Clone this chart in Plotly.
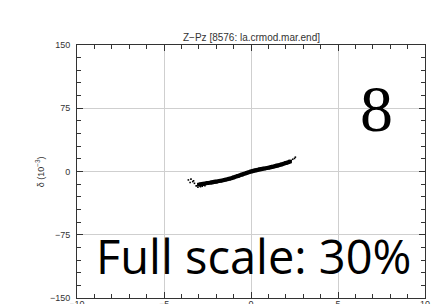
import plotly.graph_objects as go

# Core band of the Z-Pz distribution
band_x = [-3.0, -2.75, -2.5, -2.25, -2.0, -1.75, -1.5, -1.25, -1.0, -0.75, -0.5, -0.25,
          0.0, 0.25, 0.5, 0.75, 1.0, 1.25, 1.5, 1.75, 2.0, 2.25]
band_y = [-15.5, -14.6, -13.7, -12.9, -12.0, -11.0, -9.8, -8.5, -7.0, -5.3, -3.5, -1.7,
          0.0, 1.3, 2.5, 3.5, 4.5, 5.7, 7.0, 8.4, 10.0, 11.8]

# Stray particles around the ends of the band
stray_x = [-3.6, -3.45, -3.35, -3.25, -3.15, -3.05, -2.9, -2.8, -3.5, -3.3, -2.65,
           2.3, 2.4, 2.5, 2.55, 2.2]
stray_y = [-10.0, -9.0, -12.0, -14.0, -17.0, -18.5, -18.0, -17.5, -13.0, -11.0, -16.8,
           13.0, 14.5, 15.5, 17.0, 12.8]

x_tickvals = [-10, -5, 0, 5, 10]
y_tickvals = [-150, -75, 0, 75, 150]
title_text = "Z\u2212Pz [8576: la.crmod.mar.end]"
big_label = "8"
scale_label = "Full scale: 30%"

fig = go.Figure()
fig.add_trace(go.Scatter(x=band_x, y=band_y, mode="lines+markers",
                         line=dict(color="black", width=4.2, shape="spline"),
                         marker=dict(color="black", size=3.5, symbol="square"),
                         showlegend=False, hoverinfo="skip"))
fig.add_trace(go.Scatter(x=stray_x, y=stray_y, mode="markers",
                         marker=dict(color="black", size=1.6, symbol="square"),
                         showlegend=False, hoverinfo="skip"))

axis_common = dict(
    showline=True, linecolor="#333333", linewidth=1, mirror="allticks",
    ticks="inside", ticklen=6, tickcolor="#333333", tickwidth=1,
    showgrid=True, gridcolor="#cfcfcf", gridwidth=1.2,
    zeroline=False, automargin=False,
    tickfont=dict(family="Liberation Sans", size=9, color="#333333"),
)

fig.update_xaxes(range=[-10, 10], tickvals=x_tickvals,
                 ticktext=["\u221210", "\u22125", "0", "5", "10"],
                 minor=dict(ticks="inside", ticklen=4, dtick=1, tick0=0,
                            tickcolor="#333333", showgrid=False),
                 ticklabelstandoff=-3, **axis_common)
fig.update_yaxes(range=[-150, 150], tickvals=y_tickvals,
                 ticktext=["\u2212150", "\u221275", "0", "75", "150"],
                 minor=dict(ticks="inside", ticklen=4, dtick=15, tick0=0,
                            tickcolor="#333333", showgrid=False),
                 ticklabelstandoff=4, **axis_common)

fig.add_annotation(x=0.5, y=1, xref="paper", yref="paper", xanchor="center", yanchor="bottom",
                   text=title_text, showarrow=False, yshift=0,
                   font=dict(family="Liberation Sans", size=10, color="#333333"))
fig.add_annotation(x=-0.107, y=0.5, xref="paper", yref="paper",
                   text="\u03b4 (10<sup>\u22123</sup>)",
                   showarrow=False, textangle=-90, xanchor="center", yanchor="middle",
                   font=dict(family="Liberation Sans", size=9, color="#333333"))
fig.add_annotation(x=7.2, y=75, xref="x", yref="y", text=big_label, showarrow=False,
                   xanchor="center", yanchor="middle",
                   font=dict(family="Liberation Serif, Times New Roman, serif", size=66,
                             color="black"))
fig.add_annotation(x=0.15, y=-100, xref="x", yref="y", text=scale_label, showarrow=False,
                   xanchor="center", yanchor="middle",
                   font=dict(family="Open Sans", size=47, color="black"))

fig.update_layout(width=431, height=304,
                  margin=dict(l=77, r=6, t=45, b=6, autoexpand=False),
                  plot_bgcolor="white", paper_bgcolor="white")

# remove the browser's default body margin so the figure fills the window exactly
fig.write_html("out.html",
               config={"displayModeBar": False},
               post_script="document.body.style.margin='0';"
                           "document.body.style.overflow='hidden';")
